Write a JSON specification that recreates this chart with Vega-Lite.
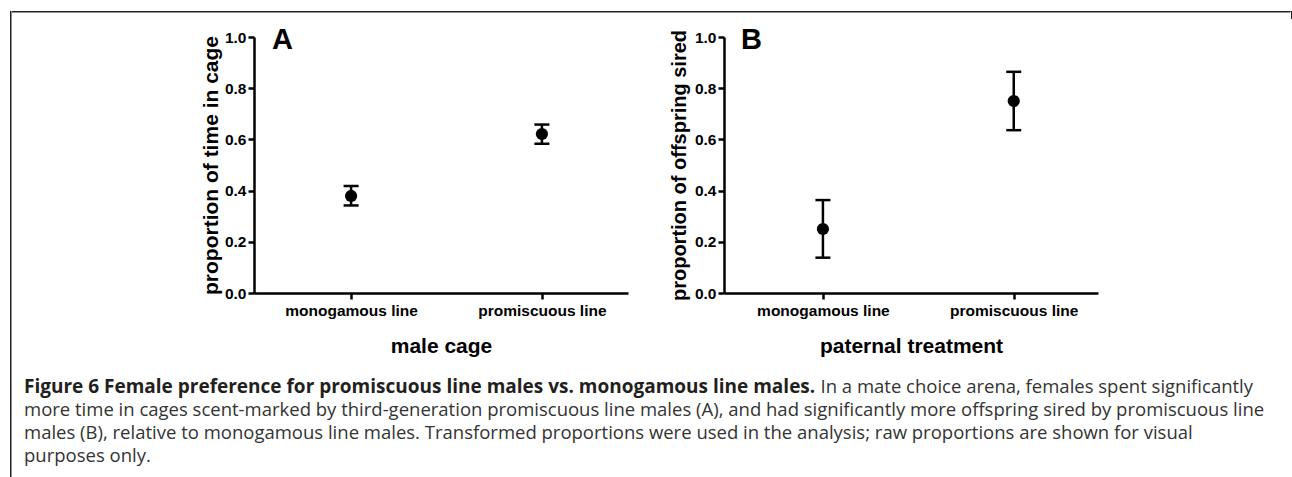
{
  "$schema": "https://vega.github.io/schema/vega-lite/v6.json",
  "background": "white",
  "padding": {"left": 10, "top": 11, "right": 0, "bottom": 0},
  "config": {
    "view": {"stroke": null},
    "axis": {"domainColor": "black", "domainWidth": 2.5, "tickColor": "black", "tickWidth": 2.5, "tickSize": 6, "grid": false, "labelColor": "black", "titleColor": "black", "labelFont": "Liberation Sans", "titleFont": "Liberation Sans", "labelFontWeight": "bold", "titleFontWeight": "bold"},
    "title": {"font": "Liberation Sans", "fontWeight": "bold", "fontSize": 29, "color": "black", "anchor": "start", "frame": "group", "offset": 0}
  },
  "datasets": {
    "cage": [
      {"group": "monogamous line", "mean": 0.379, "lower": 0.342, "upper": 0.418},
      {"group": "promiscuous line", "mean": 0.621, "lower": 0.583, "upper": 0.658}
    ],
    "sired": [
      {"group": "monogamous line", "mean": 0.25, "lower": 0.138, "upper": 0.363},
      {"group": "promiscuous line", "mean": 0.75, "lower": 0.636, "upper": 0.864}
    ],
    "caption": [
      {"line": 1, "part": "start", "weight": "bold", "text": "Figure 6 Female preference for promiscuous line males vs. monogamous line males."},
      {"line": 1, "part": "rest", "weight": "normal", "text": "In a mate choice arena, females spent significantly"},
      {"line": 2, "part": "start", "weight": "normal", "text": "more time in cages scent-marked by third-generation promiscuous line males (A), and had significantly more offspring sired by promiscuous line"},
      {"line": 3, "part": "start", "weight": "normal", "text": "males (B), relative to monogamous line males. Transformed proportions were used in the analysis; raw proportions are shown for visual"},
      {"line": 4, "part": "start", "weight": "normal", "text": "purposes only."}
    ],
    "blank": [{"name": "frame"}]
  },
  "hconcat": [
    {
      "width": 1.5, "height": 470,
      "view": {"stroke": null, "fill": "#222222"},
      "data": {"name": "blank"},
      "mark": {"type": "text", "text": "", "fontSize": 0},
      "encoding": {}
    },
    {
      "vconcat": [
        {
          "width": 1278.5, "height": 1.5,
          "view": {"stroke": null, "fill": "#222222"},
          "data": {"name": "blank"},
          "mark": {"type": "text", "text": "", "fontSize": 0},
          "encoding": {}
        },
        {
          "hconcat": [
            {
              "width": 147, "height": 256,
              "data": {"name": "blank"},
              "mark": {"type": "text", "text": "", "fontSize": 0},
              "encoding": {}
            },
            {
              "width": 374, "height": 256,
              "title": {"text": "A", "dx": 18, "dy": 29},
              "data": {"name": "cage"},
              "encoding": {
                "x": {"field": "group", "type": "nominal", "sort": null, "scale": {"type": "point", "padding": 0.48, "align": 0.53},
                      "axis": {"title": "male cage", "labelAngle": 0, "labelFontSize": 15.5, "labelPadding": 4, "titleFontSize": 21, "titlePadding": 17}}
              },
              "layer": [
                {"mark": {"type": "rule", "color": "black", "strokeWidth": 2.5},
                 "encoding": {"y": {"field": "lower", "type": "quantitative", "scale": {"domain": [0, 1], "nice": false},
                                    "axis": {"title": "proportion of time in cage", "values": [0, 0.2, 0.4, 0.6, 0.8, 1.0], "format": ".1f", "labelFontSize": 15.5, "labelPadding": 2, "titleFontSize": 21, "titlePadding": 3}},
                              "y2": {"field": "upper"}}},
                {"mark": {"type": "tick", "color": "black", "size": 15, "thickness": 2.5, "opacity": 1}, "encoding": {"y": {"field": "lower", "type": "quantitative"}}},
                {"mark": {"type": "tick", "color": "black", "size": 15, "thickness": 2.5, "opacity": 1}, "encoding": {"y": {"field": "upper", "type": "quantitative"}}},
                {"mark": {"type": "point", "filled": true, "color": "black", "opacity": 1, "size": 150}, "encoding": {"y": {"field": "mean", "type": "quantitative"}}}
              ]
            },
            {
              "width": 374, "height": 256,
              "title": {"text": "B", "dx": 17, "dy": 30},
              "data": {"name": "sired"},
              "encoding": {
                "x": {"field": "group", "type": "nominal", "sort": null, "scale": {"type": "point", "padding": 0.48, "align": 0.54},
                      "axis": {"title": "paternal treatment", "labelAngle": 0, "labelFontSize": 15.5, "labelPadding": 4, "titleFontSize": 21, "titlePadding": 17}}
              },
              "layer": [
                {"mark": {"type": "rule", "color": "black", "strokeWidth": 2.5},
                 "encoding": {"y": {"field": "lower", "type": "quantitative", "scale": {"domain": [0, 1], "nice": false},
                                    "axis": {"title": "proportion of offspring sired", "values": [0, 0.2, 0.4, 0.6, 0.8, 1.0], "format": ".1f", "labelFontSize": 15.5, "labelPadding": 2, "titleFontSize": 20, "titlePadding": 5}},
                              "y2": {"field": "upper"}}},
                {"mark": {"type": "tick", "color": "black", "size": 15, "thickness": 2.5, "opacity": 1}, "encoding": {"y": {"field": "lower", "type": "quantitative"}}},
                {"mark": {"type": "tick", "color": "black", "size": 15, "thickness": 2.5, "opacity": 1}, "encoding": {"y": {"field": "upper", "type": "quantitative"}}},
                {"mark": {"type": "point", "filled": true, "color": "black", "opacity": 1, "size": 150}, "encoding": {"y": {"field": "mean", "type": "quantitative"}}}
              ]
            }
          ],
          "spacing": 41
        },
        {
          "width": 1270, "height": 92,
          "data": {"name": "caption"},
          "encoding": {
            "x": {"field": "part", "type": "nominal", "scale": {"type": "point", "domain": ["start", "rest"], "range": [12, 808.5], "padding": 0}, "axis": null},
            "y": {"field": "line", "type": "ordinal", "scale": {"type": "point", "range": [23, 92], "padding": 0}, "axis": null},
            "text": {"field": "text"}
          },
          "layer": [
            {"transform": [{"filter": "datum.weight === 'bold'"}],
             "mark": {"type": "text", "align": "left", "baseline": "alphabetic", "font": "Open Sans", "fontSize": 19, "fontWeight": "bold", "color": "#231f20"}},
            {"transform": [{"filter": "datum.weight !== 'bold'"}],
             "mark": {"type": "text", "align": "left", "baseline": "alphabetic", "font": "Open Sans", "fontSize": 18.5, "color": "#333333"}}
          ]
        }
      ],
      "spacing": 13
    },
    {
      "width": 1.5, "height": 8,
      "view": {"stroke": null, "fill": "#222222"},
      "data": {"name": "blank"},
      "mark": {"type": "text", "text": "", "fontSize": 0},
      "encoding": {}
    }
  ],
  "spacing": 0
}
